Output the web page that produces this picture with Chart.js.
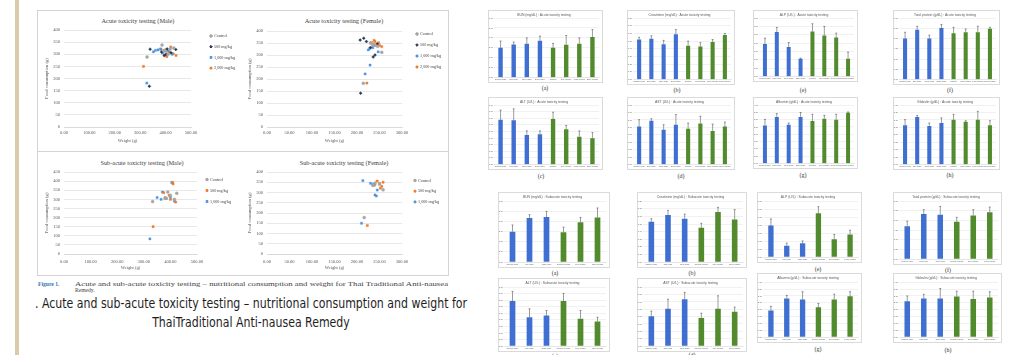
<!DOCTYPE html>
<html lang="en">
<head>
<meta charset="utf-8">
<title>Acute and sub-acute toxicity testing</title>
<script src="https://cdn.jsdelivr.net/npm/chart.js@4.4.1/dist/chart.umd.min.js"></script>
<style>
  html, body { margin: 0; padding: 0; background: #fff; }
  #page { position: relative; width: 1012px; height: 355px; overflow: hidden; background: #fff; }
  #page canvas { position: absolute; filter: blur(0.3px); }
  .rule { position: absolute; background: #d4d4d4; }
  .ctitle { position: absolute; transform: translate(-50%, -50%); white-space: nowrap;
            font-family: 'Liberation Serif', 'Times New Roman', serif; font-size: 6.3px; color: #404040; }
  .plabel { position: absolute; transform: translate(-50%, -50%); white-space: nowrap;
            font-family: 'Liberation Serif', 'Times New Roman', serif; font-size: 6px; color: #333; }
  .frame { position: absolute; border: 1px solid #dadada; box-sizing: border-box; background: #fff; }
  .cap-small { position: absolute; font-family: 'Liberation Serif', 'Times New Roman', serif;
               font-size: 5.6px; line-height: 6.4px; color: #444; white-space: nowrap; transform-origin: 0 50%; }
  .cap-big { position: absolute; left: 251px; white-space: nowrap; color: #1e1e1e;
             font-family: 'Liberation Sans Narrow', 'DejaVu Sans Condensed', 'Roboto', sans-serif;
             font-size: 14.5px; line-height: 16px; transform-origin: 50% 50%; }
</style>
</head>
<body>
<div id="page">
  <div style="position:absolute;left:15px;top:0;width:4px;height:355px;background:#dccaab"></div>

  <!-- frame of the four scatter panels -->
  <div class="rule" style="left:37px;top:10px;width:412px;height:1px"></div>
  <div class="rule" style="left:37px;top:275px;width:412px;height:1px"></div>
  <div class="rule" style="left:37px;top:10px;width:1px;height:266px"></div>
  <div class="rule" style="left:448px;top:10px;width:1px;height:266px"></div>
  <div class="rule" style="left:37px;top:151px;width:412px;height:1px"></div>

  <div class="ctitle" style="left:138px;top:20px">Acute toxicity testing (Male)</div>
  <div class="ctitle" style="left:344px;top:20px">Acute toxicity testing (Female)</div>
  <div class="ctitle" style="left:142px;top:162px">Sub-acute toxicity testing (Male)</div>
  <div class="ctitle" style="left:344px;top:162px">Sub-acute toxicity testing (Female)</div>

  <div class="cap-small" style="left:38px;top:281px;color:#2f75b5;font-weight:bold">Figure 1.</div>
  <div class="cap-small" id="capSmall" style="left:75px;top:281px">Acute and sub-acute toxicity testing – nutritional consumption and weight for Thai Traditional Anti-nausea</div>
  <div class="cap-small" style="left:75px;top:287px">Remedy.</div>

  <div class="cap-big" id="capLine1" style="top:295px">. Acute and sub-acute toxicity testing – nutritional consumption and weight for</div>
  <div class="cap-big" id="capLine2" style="top:314px">ThaiTraditional Anti-nausea Remedy</div>
</div>

<script>
// ---------- Food consumption vs. weight, [weight (g), food consumption (g)] ----------
const seriesAcute = ["Control", "500 mg/kg", "1,000 mg/kg", "2,000 mg/kg"];
const seriesSubacute = ["Control", "500 mg/kg", "1,000 mg/kg"];

const acuteMaleControl = [[327,289],[386,338],[400,312],[418,322],[410,300],[393,315],[432,326]];
const acuteMale500     = [[339,321],[336,168],[384,309],[402,300],[421,306],[440,320],[406,322],[395,296]];
const acuteMale1000    = [[326,181],[352,310],[370,318],[388,305],[410,313],[380,322],[426,300],[360,316]];
const acuteMale2000    = [[313,250],[382,320],[395,293],[414,310],[430,302],[441,295],[400,318],[420,330],[405,290]];

const acuteFemaleControl = [[214,182],[255,311],[240,341],[230,350],[246,336],[236,346]];
const acuteFemale500     = [[207,362],[215,370],[221,356],[236,292],[240,300],[208,141],[230,331],[245,346]];
const acuteFemale1000    = [[218,221],[229,258],[247,313],[225,321],[235,330],[240,340],[228,326]];
const acuteFemale2000    = [[222,183],[232,352],[240,356],[245,346],[250,340],[235,341],[255,335],[238,361],[248,351]];

const subMaleControl = [[333,288],[424,333],[380,305],[400,322],[415,300],[390,340]];
const subMale500     = [[335,150],[410,385],[408,393],[375,336],[380,310],[400,300],[420,285],[395,322]];
const subMale1000    = [[323,83],[405,392],[350,310],[365,300],[385,305],[400,311],[415,290],[370,340]];

const subFemaleControl = [[216,178],[258,313],[240,346],[250,340],[235,335]];
const subFemale500     = [[223,139],[250,345],[255,330],[258,350],[245,356],[252,321],[240,340]];
const subFemale1000    = [[213,358],[210,150],[240,288],[243,283],[245,312],[235,340],[230,345],[238,335]];

const weightTicksMale   = [0, 100, 200, 300, 400, 500];
const weightTicksFemale = [0, 50, 100, 150, 200, 250, 300];
const foodTicks400 = [0, 50, 100, 150, 200, 250, 300, 350, 400];
const foodTicks450 = [0, 50, 100, 150, 200, 250, 300, 350, 400, 450];

// ---------- Blood chemistry, mean and SD per group ----------
const acuteGroups = ["Control male", "500 male", "1000 male", "2000 male", ["Control", "female"], "500 female", "1000 female", "2000 female"];
const subacuteGroups = ["Control male", "500 male", "1000 male", "Control female", "500 female", "1000 female"];

const acuteBUN = [15.0, 16.7, 17.1, 18.6, 15.0, 16.5, 17.1, 20.4];
const acuteBUNsd = [3.4, 1.2, 2.9, 2.3, 2.2, 4.7, 2.9, 3.8];
const acuteCreatinine = [0.52, 0.53, 0.46, 0.59, 0.44, 0.43, 0.49, 0.58];
const acuteCreatinineSd = [0.03, 0.04, 0.05, 0.06, 0.06, 0.05, 0.03, 0.02];
const acuteALT = [67.9, 66.9, 44.7, 45.8, 68.9, 53.5, 42.2, 39.6];
const acuteALTsd = [14.4, 17.4, 6.2, 5.1, 10.3, 5.6, 8.7, 8.7];
const acuteAST = [102.4, 117.9, 93.3, 107.0, 96.0, 110.6, 90.5, 102.4];
const acuteASTsd = [18.3, 5.5, 13.7, 27.4, 15.5, 19.2, 18.3, 11.9];
const acuteALP = [194, 266, 176, 106, 270, 246, 234, 106];
const acuteALPsd = [36, 28, 28, 4, 46, 54, 26, 40];
const acuteProtein = [5.99, 7.28, 5.99, 7.54, 6.76, 6.92, 6.92, 7.44];
const acuteProteinSd = [0.93, 0.52, 0.51, 0.52, 0.89, 0.48, 0.88, 0.21];
const acuteAlbumin = [2.60, 3.19, 2.65, 3.19, 2.91, 3.07, 3.00, 3.47];
const acuteAlbuminSd = [0.42, 0.23, 0.12, 0.30, 0.46, 0.23, 0.37, 0.06];
const acuteGlobulin = [2.65, 3.19, 2.60, 2.79, 3.02, 2.88, 3.02, 2.65];
const acuteGlobulinSd = [0.37, 0.11, 0.19, 0.35, 0.35, 0.07, 0.56, 0.30];

const subBUN = [15.0, 21.7, 22.2, 14.7, 19.7, 22.0];
const subBUNsd = [3.3, 1.7, 2.8, 2.5, 2.3, 4.7];
const subCreatinine = [0.53, 0.62, 0.57, 0.45, 0.66, 0.56];
const subCreatinineSd = [0.04, 0.06, 0.06, 0.06, 0.06, 0.13];
const subALT = [69.0, 44.0, 46.6, 69.0, 41.9, 37.7];
const subALTsd = [14.7, 13.0, 7.8, 11.6, 12.5, 6.3];
const subAST = [81.0, 101.4, 127.5, 76.3, 101.4, 93.0];
const subASTsd = [14.0, 26.1, 18.5, 13.0, 35.4, 13.0];
const subALP = [198, 71, 87, 275, 111, 142];
const subALPsd = [41, 16, 14, 41, 31, 26];
const subProtein = [5.1, 7.0, 6.9, 5.8, 6.8, 7.3];
const subProteinSd = [0.8, 0.7, 1.3, 0.7, 0.9, 0.8];
const subAlbumin = [1.94, 2.81, 2.74, 2.17, 2.74, 2.97];
const subAlbuminSd = [0.30, 0.23, 0.57, 0.28, 0.39, 0.34];
const subGlobulin = [2.61, 2.82, 2.82, 2.96, 2.77, 2.89];
const subGlobulinSd = [0.39, 0.30, 0.72, 0.39, 0.58, 0.42];

const bunTicks = [0, 5, 10, 15, 20, 25, 30];
const creatinineTicks = [0, 0.1, 0.2, 0.3, 0.4, 0.5, 0.6, 0.7, 0.8];
const altTicks = [0, 10, 20, 30, 40, 50, 60, 70, 80, 90];
const astTicks = [0, 20, 40, 60, 80, 100, 120, 140, 160];
const alpTicks = [0, 50, 100, 150, 200, 250, 300, 350];
const proteinTicks = [0, 1.5, 3, 4.5, 6, 7.5, 9];
const albuminTicks = [0, 0.5, 1, 1.5, 2, 2.5, 3, 3.5, 4];

// ---------- drawing ----------
const page = document.getElementById('page');
const SERIF = "'Liberation Serif', 'Times New Roman', serif";
const SANS = "'Liberation Sans', Arial, sans-serif";
Chart.defaults.animation = false;
Chart.defaults.font.family = SANS;

// legend drawn beside the plot at a fixed spot (canvas coordinates)
const sideLegend = {
  id: 'sideLegend',
  afterDraw(chart, args, opts) {
    if (!opts || opts.x === undefined) return;
    const ctx = chart.ctx;
    ctx.save();
    ctx.font = `4.2px ${SERIF}`;
    ctx.textBaseline = 'middle';
    chart.data.datasets.forEach((ds, i) => {
      const y = opts.y + i * opts.gap;
      ctx.fillStyle = ds.backgroundColor;
      ctx.strokeStyle = ds.borderColor;
      Chart.helpers.drawPoint(ctx, { pointStyle: ds.pointStyle, radius: 1.3, borderWidth: 0.4, rotation: 0 }, opts.x, y);
      ctx.fillStyle = '#404040';
      ctx.fillText(ds.label, opts.x + 3, y);
    });
    ctx.restore();
  }
};

// upper error bars for bar charts
const errorBars = {
  id: 'errorBars',
  afterDatasetsDraw(chart, args, opts) {
    if (!opts || !opts.values) return;
    const meta = chart.getDatasetMeta(0);
    const ys = chart.scales.y;
    const data = chart.data.datasets[0].data;
    const ctx = chart.ctx;
    ctx.save();
    ctx.strokeStyle = '#3a3a3a';
    ctx.lineWidth = 0.5;
    meta.data.forEach((bar, i) => {
      const top = ys.getPixelForValue(data[i] + opts.values[i]);
      ctx.beginPath();
      ctx.moveTo(bar.x, bar.y);
      ctx.lineTo(bar.x, top);
      ctx.moveTo(bar.x - 1, top);
      ctx.lineTo(bar.x + 1, top);
      ctx.stroke();
    });
    ctx.restore();
  }
};
Chart.register(sideLegend, errorBars);

function makeCanvas(x, y, w, h) {
  const cv = document.createElement('canvas');
  cv.width = w; cv.height = h;
  cv.style.left = x + 'px'; cv.style.top = y + 'px';
  page.appendChild(cv);
  return cv;
}

const markerLook = {
  "Control":     { color: '#a6a6a6', style: 'circle' },
  "500 mg/kg":   { color: '#26344f', style: 'rectRot' },
  "1,000 mg/kg": { color: '#4d94e0', style: 'rect' },
  "2,000 mg/kg": { color: '#ee7a2c', style: 'rect' }
};
const markerLookSub = {
  "Control":     { color: '#a6a6a6', style: 'circle' },
  "500 mg/kg":   { color: '#ee7a2c', style: 'rect' },
  "1,000 mg/kg": { color: '#4d94e0', style: 'rect' }
};

function scatterPanel(g, names, look, series, xTicks, yTicks) {
  const cv = makeCanvas(g.x, g.y, g.w, g.h);
  new Chart(cv, {
    type: 'scatter',
    data: {
      datasets: names.map((n, i) => ({
        label: n,
        data: series[i].map(p => ({ x: p[0], y: p[1] })),
        pointStyle: look[n].style,
        pointRadius: 1.5,
        backgroundColor: look[n].color,
        borderColor: look[n].color,
        borderWidth: 0.4
      }))
    },
    options: {
      responsive: false,
      events: [],
      layout: { padding: { left: g.pl, right: g.pr, top: g.pt, bottom: g.pb } },
      plugins: {
        legend: { display: false },
        tooltip: { enabled: false },
        sideLegend: { x: g.lx, y: g.ly, gap: g.lg }
      },
      scales: {
        x: {
          type: 'linear',
          min: xTicks[0], max: xTicks[xTicks.length - 1],
          grid: { display: false, drawTicks: false },
          border: { display: true, color: '#d0d0d0', width: 0.6 },
          ticks: { stepSize: xTicks[1] - xTicks[0], padding: g.tp, maxRotation: 0, autoSkip: false,
                   font: { size: 4.5, family: SERIF }, color: '#595959', callback: v => v.toFixed(2) },
          title: { display: true, text: 'Weight (g)', font: { size: 4.6, family: SERIF }, color: '#595959',
                   padding: { top: 0, bottom: 1.2 } },
          afterFit: s => { s.height = g.xh; }
        },
        y: {
          min: yTicks[0], max: yTicks[yTicks.length - 1],
          grid: { color: '#d9d9d9', lineWidth: 0.6, drawTicks: false },
          border: { display: false },
          ticks: { stepSize: yTicks[1] - yTicks[0], padding: 4, font: { size: 4.5, family: SERIF }, color: '#595959' },
          title: { display: true, text: 'Food consumption (g)', font: { size: 4.6, family: SERIF }, color: '#595959',
                   padding: { top: 4.2, bottom: 0 } },
          afterFit: s => { s.width = 24; }
        }
      }
    }
  });
}

scatterPanel({ x: 37, y: 10, w: 213, h: 140, pl: 3, pr: 59, pt: 20, pb: 5, xh: 18, tp: 3.5, lx: 174, ly: 26, lg: 10.7 },
  seriesAcute, markerLook, [acuteMaleControl, acuteMale500, acuteMale1000, acuteMale2000], weightTicksMale, foodTicks400);
scatterPanel({ x: 240, y: 10, w: 209, h: 140, pl: 3, pr: 47, pt: 21, pb: 5, xh: 18, tp: 3.5, lx: 177, ly: 24, lg: 11 },
  seriesAcute, markerLook, [acuteFemaleControl, acuteFemale500, acuteFemale1000, acuteFemale2000], weightTicksFemale, foodTicks400);
scatterPanel({ x: 37, y: 153, w: 213, h: 122, pl: 3, pr: 53, pt: 19, pb: 3, xh: 18, tp: 5, lx: 170, ly: 26.5, lg: 11 },
  seriesSubacute, markerLookSub, [subMaleControl, subMale500, subMale1000], weightTicksMale, foodTicks450);
scatterPanel({ x: 240, y: 153, w: 209, h: 122, pl: 3, pr: 47, pt: 19, pb: 3, xh: 18, tp: 5, lx: 175, ly: 27.5, lg: 10.7 },
  seriesSubacute, markerLookSub, [subFemaleControl, subFemale500, subFemale1000], weightTicksFemale, foodTicks400);

// bar chart panels
const BLUE = '#3f6fd1';
const GREEN = '#528a2e';

function barPanel(g, title, groups, vals, sd, ticks, decimals) {
  const fr = document.createElement('div');
  fr.className = 'frame';
  fr.style.cssText = `left:${g.x}px;top:${g.y}px;width:${g.w}px;height:${g.h}px`;
  page.appendChild(fr);
  const lab = document.createElement('div');
  lab.className = 'plabel';
  lab.style.left = g.lx + 'px'; lab.style.top = g.ly + 'px';
  lab.textContent = g.tag;
  page.appendChild(lab);

  const cv = makeCanvas(g.x, g.y, g.w, g.h);
  const colors = groups.map(n => ([].concat(n).join(' ').includes('female') ? GREEN : BLUE));
  new Chart(cv, {
    type: 'bar',
    data: { labels: groups, datasets: [{ data: vals, backgroundColor: colors, barPercentage: 0.42, categoryPercentage: 0.8 }] },
    options: {
      responsive: false,
      events: [],
      layout: { padding: { left: 1, right: 4, top: 0, bottom: g.pb } },
      plugins: {
        legend: { display: false },
        tooltip: { enabled: false },
        title: { display: true, text: title, color: '#595959', font: { size: 3.4, family: SANS, weight: 'normal' },
                 padding: { top: 2.6, bottom: g.tb } },
        errorBars: { values: sd }
      },
      scales: {
        x: {
          grid: { display: false, drawTicks: false },
          border: { color: '#d9d9d9', width: 0.5 },
          ticks: { font: { size: 2.1, family: SANS }, color: '#595959', padding: 1, maxRotation: 0, autoSkip: false },
          afterFit: s => { s.height = g.xh; }
        },
        y: {
          min: ticks[0], max: ticks[ticks.length - 1],
          grid: { color: '#e2e2e2', lineWidth: 0.5, drawTicks: false },
          border: { display: false },
          ticks: { stepSize: ticks[1] - ticks[0], font: { size: 2.1, family: SANS }, color: '#595959', padding: 1,
                   callback: v => Number(v).toFixed(decimals) },
          afterFit: s => { s.width = 5; }
        }
      }
    }
  });
}

const A = ' : Acute toxicity testing';
const S = ' : Subacute toxicity testing';
const acuteGeo = { pb: 1, tb: 1.4, xh: 4.5 };
const subGeo = { pb: 1.5, tb: 2.6, xh: 4.5 };

barPanel({ ...acuteGeo, x: 488, y: 10, w: 115, h: 73, tag: '(a)', lx: 545, ly: 88 }, 'BUN (mg/dL)' + A, acuteGroups, acuteBUN, acuteBUNsd, bunTicks, 2);
barPanel({ ...acuteGeo, x: 627, y: 10, w: 108, h: 75, tag: '(b)', lx: 677, ly: 90 }, 'Creatinine (mg/dL)' + A, acuteGroups, acuteCreatinine, acuteCreatinineSd, creatinineTicks, 2);
barPanel({ ...acuteGeo, x: 488, y: 97, w: 115, h: 73, tag: '(c)', lx: 541, ly: 176 }, 'ALT (U/L)' + A, acuteGroups, acuteALT, acuteALTsd, altTicks, 2);
barPanel({ ...acuteGeo, x: 627, y: 97, w: 108, h: 73, tag: '(d)', lx: 681, ly: 176 }, 'AST (U/L)' + A, acuteGroups, acuteAST, acuteASTsd, astTicks, 2);
barPanel({ ...acuteGeo, x: 753, y: 10, w: 105, h: 72, tag: '(e)', lx: 803, ly: 90 }, 'ALP (U/L)' + A, acuteGroups, acuteALP, acuteALPsd, alpTicks, 2);
barPanel({ ...acuteGeo, x: 893, y: 10, w: 107, h: 75, tag: '(f)', lx: 950, ly: 90 }, 'Total protein (g/dL)' + A, acuteGroups, acuteProtein, acuteProteinSd, proteinTicks, 2);
barPanel({ ...acuteGeo, x: 753, y: 97, w: 105, h: 72, tag: '(g)', lx: 803, ly: 175 }, 'Albumin (g/dL)' + A, acuteGroups, acuteAlbumin, acuteAlbuminSd, albuminTicks, 2);
barPanel({ ...acuteGeo, x: 893, y: 97, w: 107, h: 73, tag: '(h)', lx: 950, ly: 175 }, 'Globulin (g/dL)' + A, acuteGroups, acuteGlobulin, acuteGlobulinSd, albuminTicks, 2);

barPanel({ ...subGeo, x: 498, y: 192, w: 112, h: 76, tag: '(a)', lx: 555, ly: 273 }, 'BUN (mg/dL)' + S, subacuteGroups, subBUN, subBUNsd, bunTicks, 2);
barPanel({ ...subGeo, x: 637, y: 192, w: 110, h: 76, tag: '(b)', lx: 692, ly: 273 }, 'Creatinine (mg/dL)' + S, subacuteGroups, subCreatinine, subCreatinineSd, creatinineTicks, 2);
barPanel({ ...subGeo, x: 498, y: 278, w: 112, h: 74, tag: '(c)', lx: 555, ly: 356 }, 'ALT (U/L)' + S, subacuteGroups, subALT, subALTsd, altTicks, 2);
barPanel({ ...subGeo, x: 637, y: 278, w: 110, h: 74, tag: '(d)', lx: 692, ly: 355 }, 'AST (U/L)' + S, subacuteGroups, subAST, subASTsd, astTicks, 2);
barPanel({ ...subGeo, x: 757, y: 192, w: 105, h: 71, tag: '(e)', lx: 818, ly: 269 }, 'ALP (U/L)' + S, subacuteGroups, subALP, subALPsd, alpTicks, 2);
barPanel({ ...subGeo, x: 893, y: 192, w: 109, h: 73, tag: '(f)', lx: 948, ly: 270 }, 'Total protein (g/dL)' + S, subacuteGroups, subProtein, subProteinSd, proteinTicks, 2);
barPanel({ ...subGeo, x: 757, y: 273, w: 105, h: 70, tag: '(g)', lx: 818, ly: 349 }, 'Albumin (g/dL)' + S, subacuteGroups, subAlbumin, subAlbuminSd, albuminTicks, 2);
barPanel({ ...subGeo, x: 893, y: 273, w: 109, h: 70, tag: '(h)', lx: 948, ly: 350 }, 'Globulin (g/dL)' + S, subacuteGroups, subGlobulin, subGlobulinSd, albuminTicks, 2);

// captions: stretch each line to its column width
function fitCaption() {
  const l1 = document.getElementById('capLine1');
  const l2 = document.getElementById('capLine2');
  l1.style.transform = 'translateX(-50%)';
  l2.style.transform = 'translateX(-50%)';
  const k = 432 / l1.getBoundingClientRect().width;
  l1.style.transform = `translateX(-50%) scaleX(${k})`;
  l2.style.transform = `translateX(-50%) scaleX(${k})`;

  const sm = document.getElementById('capSmall');
  sm.style.transform = 'none';
  const ks = 373 / sm.getBoundingClientRect().width;
  sm.style.transform = `scaleX(${ks})`;
}
fitCaption();
if (document.fonts && document.fonts.ready) document.fonts.ready.then(fitCaption);
</script>
</body>
</html>
